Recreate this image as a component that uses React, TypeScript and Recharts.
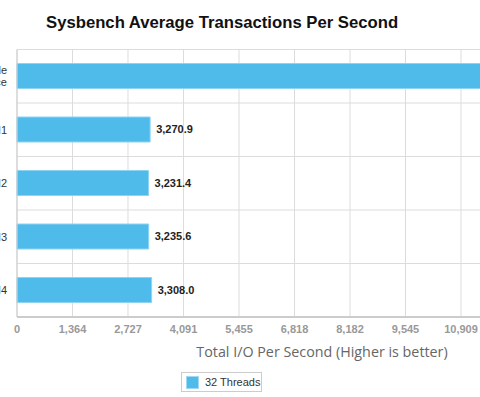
import { Bar, BarChart, CartesianGrid, LabelList, XAxis, YAxis } from 'recharts';

const categories = ['Single Instance', 'VM1', 'VM2', 'VM3', 'VM4'];
const threads32 = [12150, 3270.9, 3231.4, 3235.6, 3308.0];
// Only the ticks that fall inside the visible crop; the axis runs to 15,000.
const xTicks = [0, 1364, 2727, 4091, 5455, 6818, 8182, 9545, 10909];

const data = categories.map((name, i) => ({ name, t32: threads32[i] }));

const fmtTick = (v: number) => v.toLocaleString('en-US');
const fmtVal = (v: number) =>
  v.toLocaleString('en-US', { minimumFractionDigits: 1, maximumFractionDigits: 1 });

/** Category tick, split on space for the long first label. */
function CatTick({ x, y, payload }: any) {
  const words = String(payload.value).split(' ');
  const lh = 12;
  const y0 = y - ((words.length - 1) * lh) / 2;
  return (
    <text x={x} y={y0} textAnchor="end" fontSize={11} fill="#333" fontFamily="Liberation Sans, Arial, sans-serif">
      {words.map((w, i) => (
        <tspan key={i} x={x} y={y0 + i * lh} dy="0.35em">
          {w}
        </tspan>
      ))}
    </text>
  );
}

export default function App() {
  return (
    <div
      style={{
        position: 'fixed',
        left: 0,
        top: 0,
        width: 480,
        height: 397,
        overflow: 'hidden',
        background: '#fff',
        fontFamily: 'Liberation Sans, Arial, sans-serif',
      }}
    >
      <div style={{ position: 'absolute', left: 46, top: 13, fontSize: 16.7, fontWeight: 'bold', color: '#111', whiteSpace: 'nowrap' }}>
        Sysbench Average Transactions Per Second
      </div>
      <div style={{ position: 'absolute', left: -83, top: 0 }}>
        <BarChart
          width={731}
          height={397}
          data={data}
          layout="vertical"
          margin={{ top: 49.5, right: 20.5, bottom: 0, left: 0 }}
        >
          <CartesianGrid
            stroke="#dcdcdc"
            horizontalCoordinatesGenerator={({ offset }: any) =>
              categories.concat('').map((_, i) => offset.top + (i * offset.height) / categories.length)
            }
            verticalCoordinatesGenerator={({ offset }: any) =>
              xTicks.concat(12273, 13636, 15000).map((t) => offset.left + (t / 15000) * offset.width)
            }
          />
          <XAxis
            type="number"
            domain={[0, 15000]}
            ticks={xTicks}
            interval={0}
            height={80}
            tickLine={false}
            axisLine={{ stroke: '#ccc', strokeWidth: 2 }}
            tickFormatter={fmtTick}
            tick={{ fontSize: 11, fill: '#999', fontWeight: 'bold', fontFamily: 'Liberation Sans, Arial, sans-serif' }}
          />
          <YAxis
            type="category"
            dataKey="name"
            width={100}
            tickLine={false}
            tickSize={0}
            tickMargin={10}
            axisLine={{ stroke: '#ccc' }}
            tick={<CatTick />}
          />
          <Bar dataKey="t32" fill="#4FBBEB" stroke="#8fd3f2" strokeWidth={1} barSize={25} isAnimationActive={false}>
            <LabelList
              dataKey="t32"
              position="right"
              offset={6}
              formatter={(v: any) => fmtVal(Number(v))}
              style={{ fontSize: 11, fontWeight: 'bold', fill: '#222', fontFamily: 'Liberation Sans, Arial, sans-serif' }}
            />
          </Bar>
        </BarChart>
      </div>
      <div
        style={{
          position: 'absolute',
          left: 322,
          top: 342,
          transform: 'translateX(-50%)',
          fontSize: 14.3,
          color: '#666',
          whiteSpace: 'nowrap',
          fontFamily: 'Open Sans, sans-serif',
        }}
      >
        Total I/O Per Second (Higher is better)
      </div>
      <div
        style={{
          position: 'absolute',
          left: 181,
          top: 372,
          width: 79,
          height: 18,
          border: '1px solid #ccc',
          display: 'flex',
          alignItems: 'center',
          fontSize: 11,
          color: '#333',
        }}
      >
        <span style={{ display: 'inline-block', width: 11, height: 11, background: '#4FBBEB', border: '1px solid #9fd9f4', marginLeft: 4, marginRight: 6 }} />
        32 Threads
      </div>
    </div>
  );
}
